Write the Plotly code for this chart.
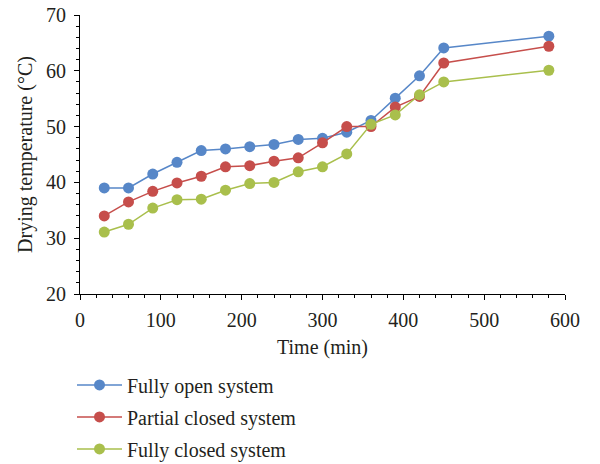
import plotly.graph_objects as go

time_min = [30, 60, 90, 120, 150, 180, 210, 240, 270, 300, 330, 360, 390, 420, 450, 580]
fully_open = [39.0, 39.0, 41.5, 43.6, 45.7, 46.0, 46.4, 46.8, 47.7, 47.9, 49.0, 51.1, 55.1, 59.1, 64.1, 66.2]
partial_closed = [34.0, 36.5, 38.4, 39.9, 41.1, 42.8, 43.0, 43.8, 44.4, 47.1, 50.0, 50.0, 53.5, 55.4, 61.4, 64.4]
fully_closed = [31.1, 32.5, 35.4, 36.9, 37.0, 38.6, 39.8, 40.0, 41.9, 42.8, 45.1, 50.4, 52.1, 55.7, 58.0, 60.1]

series_names = ["Fully open system", "Partial closed system", "Fully closed system"]
colors = ["#5787C8", "#C64E4B", "#A9BF4C"]

FONT = "Liberation Serif"
FS = 20
fig = go.Figure()
for i, (name, vals) in enumerate(zip(series_names, [fully_open, partial_closed, fully_closed])):
    fig.add_trace(go.Scatter(
        x=time_min, y=vals, name=name, mode="lines+markers",
        line=dict(color=colors[i], width=1.5),
        marker=dict(color=colors[i], size=11),
        legendgroup=f"g{i}",
    ))

fig.update_layout(
    width=600, height=464,
    margin=dict(l=80, r=35, t=15, b=170, autoexpand=False),
    plot_bgcolor="white", paper_bgcolor="white",
    font=dict(family=FONT, size=FS, color="#231f20"),
    showlegend=True,
    legend=dict(x=-0.0165, y=-0.256, xanchor="left", yanchor="top",
                font=dict(family=FONT, size=FS, color="#231f20"),
                tracegroupgap=3, itemwidth=45, bgcolor="rgba(0,0,0,0)"),
)
fig.update_xaxes(
    range=[0, 600], dtick=100, tick0=0,
    showline=True, linecolor="black", linewidth=1,
    ticks="outside", ticklen=5, tickcolor="black",
    minor=dict(dtick=20, ticks="outside", ticklen=3, tickcolor="black"),
    showgrid=False, zeroline=False,
    title=dict(text="Time (min)", font=dict(size=FS), standoff=9),
    tickfont=dict(size=FS), ticklabelstandoff=3,
)
fig.update_yaxes(
    range=[20, 70], dtick=10, tick0=20,
    showline=True, linecolor="black", linewidth=1,
    ticks="outside", ticklen=5, tickcolor="black",
    minor=dict(dtick=2, ticks="outside", ticklen=3, tickcolor="black"),
    showgrid=False, zeroline=False,
    title=dict(text="Drying temperature (°C)", font=dict(size=FS), standoff=8),
    tickfont=dict(size=FS), ticklabelstandoff=4,
)
fig.write_html("out.html")
